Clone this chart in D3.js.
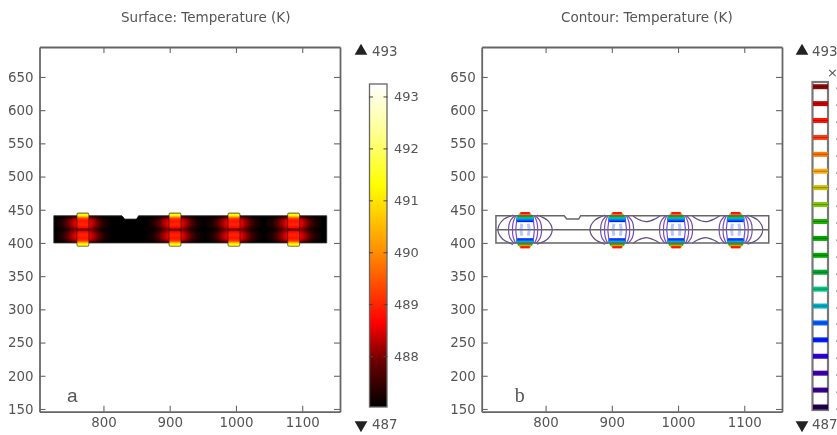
<!DOCTYPE html>
<html><head><meta charset="utf-8">
<script src="https://cdn.jsdelivr.net/npm/d3@7"></script>
<style>
html,body{margin:0;padding:0;background:#fff;overflow:hidden}
svg{display:block;filter:blur(0.65px)}
text{font-family:"DejaVu Sans",sans-serif;fill:#555}
</style></head><body><svg id="c" width="837" height="435"></svg>
<script>
// ---- data ----
const titles = ["Surface: Temperature (K)", "Contour: Temperature (K)"];
const panelLetters = ["a", "b"];
const xTicks = [800, 900, 1000, 1100];
const yTicks = [150,200,250,300,350,400,450,500,550,600,650];
const maxLabel = "493", minLabel = "487";
const barTicks = [488,489,490,491,492,493];
const heatColorT = [487, 487.9, 488.65, 490, 491.3, 492.3, 493.25];
const heatColorC = ["#000000","#6a0000","#ff0000","#ff8c00","#ffff00","#ffff90","#ffffff"];
const outline = [[725,441],[828,441],[832,436],[850,436],[853,441],[1137,441],[1137,400],[725,400]];
const padCentres = [769, 908, 997, 1087];
const padHalf = 9, padTop = 445, padBottom = 395, midY = 420;
const profOffsets = [-44,-32,-24,-18,-12,-8,0,8,12,18,24,32,44];
const rowEdge  = [487,487,487.1,487.3,487.5,487.7,487.8,487.7,487.5,487.3,487.1,487,487];
const rowUpper = [487,487.3,487.75,488.15,488.5,488.7,489,488.7,488.5,488.15,487.75,487.3,487];
const rowMid   = [487,487.15,487.5,487.85,488.2,488.4,488.6,488.4,488.2,487.85,487.5,487.15,487];
const rowBreaks = [441,436,431,424,422,418,416,409,404,400];
const rowOrder  = ["e","u","u","m","d","m","u","u","e"];
const padY = [445,441.5,440,437,433,428,423,421,419,417,412,407,403,400,398.5,395];
const padT = [491.3,491.25,490.6,489.2,488.8,489,488.7,487.9,487.9,488.7,489,488.8,489.2,490.6,491.25,491.3];
const levelT = [493.15,492.83,492.51,492.19,491.87,491.55,491.24,490.92,490.6,490.28,489.96,489.64,489.32,489,488.68,488.36,488.05,487.73,487.41,487.09];
const levelC = ["#8b0a0a","#cc0000","#ff1500","#ff3c10","#ff7a00","#ffaa10","#c8c000","#80c800","#20b000","#00a800","#00aa00","#00a830","#00c880","#00b0c8","#0060ff","#0020ff","#3000e0","#4000b0","#3a0090","#200050"];
const levelLabels = ["4.93","4.93","4.93","4.92","4.92","4.92","4.91","4.91","4.91","4.90","4.90","4.90","4.89","4.89","4.89","4.88","4.88","4.88","4.87","4.87"];
// end contours: level index, dy from mid-line, half-width
const endLevels = [15,14,13,12,10,8,6,4,2];
const endDy     = [13,15,17,19,20.5,21.5,23,24,25];
const endDx     = [12,13,13,12,11,10,9,8,7];
// side arcs: [dx,dy] quarter curves
const arcA = [[12,20],[13,10],[14,0]];
const arcB = [[14,21],[18,11],[19,0]];
const arcC = [[16,21],[23,12],[25,0]];
const arcOuter = [[18,22],[34,14],[41,0]];
const arcInner = [[5,9],[6,0]];
const arcLevels = [17,18,16,19,15];
const outerSides = [[769,-1],[769,1],[908,-1],[1087,1]];
const saddleSpans = [[908,997],[997,1087]];
const saddleDx = [24,31,44,57,65];
const saddleDy = [21,16,12,16,21];
// ---- drawing ----
const svg = d3.select("#c"), defs = svg.append("defs");
const x0 = 703.5, x1 = 1157, y0 = 145.9, y1 = 695.1;
const panels = [[39.5,340],[481.7,782]];
const y = d3.scaleLinear().domain([y0,y1]).range([411.7,47]);
const heat = d3.scaleLinear().domain(heatColorT).range(heatColorC).clamp(true);
const axisCol = "#666";
function frame(i){
  const x = d3.scaleLinear().domain([x0,x1]).range(panels[i]);
  const g = svg.append("g");
  const st = a=>{a.selectAll("path.domain").attr("stroke",axisCol).attr("stroke-width",1.8);
    a.selectAll("line").attr("stroke",axisCol).attr("stroke-width",1.1);
    a.selectAll("text").style("font-size","13.4px").style("font-family","DejaVu Sans").attr("fill","#555");};
  g.append("g").attr("transform",`translate(0,${y.range()[0]})`).call(d3.axisBottom(x).tickValues(xTicks).tickFormat(d3.format("d")).tickSizeInner(-6).tickSizeOuter(0).tickPadding(6)).call(st);
  g.append("g").attr("transform",`translate(0,${y.range()[1]})`).call(d3.axisTop(x).tickValues(xTicks).tickFormat("").tickSizeInner(-6).tickSizeOuter(0)).call(st);
  g.append("g").attr("transform",`translate(${panels[i][0]},0)`).call(d3.axisLeft(y).tickValues(yTicks).tickFormat(d3.format("d")).tickSizeInner(-6).tickSizeOuter(0).tickPadding(6)).call(st);
  g.append("g").attr("transform",`translate(${panels[i][1]},0)`).call(d3.axisRight(y).tickValues(yTicks).tickFormat("").tickSizeInner(-6).tickSizeOuter(0)).call(st);
  svg.append("text").attr("x",(panels[i][0]+panels[i][1])/2+16+(i?-1:0)).attr("y",22).attr("text-anchor","middle").style("font-size","13.5px").text(titles[i]);
  svg.append("text").attr("x",panels[i][0]+(i?33:27.5)).attr("y",402).style("font-size",i?"20px":"19px").style("font-family",i?"Liberation Serif":"Liberation Sans").text(panelLetters[i]);
  return x;
}
function tri(cx,cy,up){
  svg.append("path").attr("d",d3.symbol(d3.symbolTriangle,70)()).attr("transform",`translate(${cx},${cy}) rotate(${up?0:180})`).attr("fill","#222");
}
const line = (x)=>d3.line().x(d=>x(d[0])).y(d=>y(d[1]));
// left panel
const xa = frame(0);
defs.append("clipPath").attr("id","barClip").append("path").attr("d",line(xa)(outline)+"Z");
const soft = defs.append("filter").attr("id","soft").attr("x","-5%").attr("y","-30%").attr("width","110%").attr("height","160%");
soft.append("feGaussianBlur").attr("stdDeviation","0.6 1.6");
const stopsX = [], prof = {e:[],u:[],d:[],m:[]};
padCentres.forEach(c=>profOffsets.forEach((o,i)=>{stopsX.push(c+o);prof.e.push(rowEdge[i]);prof.u.push(rowUpper[i]);prof.m.push(rowMid[i]);prof.d.push(rowMid[i]-0.4);}));
Object.keys(prof).forEach(k=>{
  const lg = defs.append("linearGradient").attr("id","r"+k).attr("gradientUnits","userSpaceOnUse").attr("x1",xa(725)).attr("x2",xa(1137)).attr("y1",0).attr("y2",0);
  stopsX.forEach((s,i)=>lg.append("stop").attr("offset",(s-725)/(1137-725)).attr("stop-color",heat(prof[k][i])));
});
const heatG = svg.append("g");
const clipG = heatG.append("g").attr("clip-path","url(#barClip)");
clipG.append("rect").attr("x",xa(725)).attr("width",xa(1137)-xa(725)).attr("y",y(445)).attr("height",y(395)-y(445)).attr("fill","#000");
const bars = clipG.append("g").attr("filter","url(#soft)");
rowOrder.forEach((k,i)=>bars.append("rect").attr("x",xa(725)).attr("width",xa(1137)-xa(725)).attr("y",y(rowBreaks[i])).attr("height",y(rowBreaks[i+1])-y(rowBreaks[i])+0.5).attr("fill",`url(#r${k})`));
heatG.append("path").attr("d",line(xa)(outline)+"Z").attr("fill","none").attr("stroke","#333").attr("stroke-width",.8);
const pg = defs.append("linearGradient").attr("id","pad").attr("x1",0).attr("x2",0).attr("y1",0).attr("y2",1);
padY.forEach((v,i)=>pg.append("stop").attr("offset",(padTop-v)/(padTop-padBottom)).attr("stop-color",heat(padT[i])));
padCentres.forEach(c=>heatG.append("rect").attr("x",xa(c-padHalf)).attr("width",xa(c+padHalf)-xa(c-padHalf)).attr("y",y(padTop)).attr("height",y(padBottom)-y(padTop)).attr("rx",1.5).attr("fill","url(#pad)").attr("stroke","#222").attr("stroke-opacity",.6).attr("stroke-width",1.1));
// left color bar
const cbY = d3.scaleLinear().domain([487.03,493.25]).range([407,84]);
const vg = defs.append("linearGradient").attr("id","cb").attr("x1",0).attr("x2",0).attr("y1",1).attr("y2",0);
heatColorT.forEach((t,i)=>vg.append("stop").attr("offset",(t-487.03)/(493.25-487.03)).attr("stop-color",heatColorC[i]));
svg.append("rect").attr("x",369.5).attr("y",84).attr("width",17.5).attr("height",323).attr("fill","url(#cb)").attr("stroke","#666").attr("stroke-width",1.3);
barTicks.forEach(t=>{
  svg.append("line").attr("x1",369).attr("x2",373).attr("y1",cbY(t)).attr("y2",cbY(t)).attr("stroke","#444");
  svg.append("line").attr("x1",383.5).attr("x2",387.5).attr("y1",cbY(t)).attr("y2",cbY(t)).attr("stroke","#444");
  svg.append("text").attr("x",394).attr("y",cbY(t)+4.5).style("font-size","13px").text(t);
});
tri(361,51,true); tri(361,425,false);
svg.append("text").attr("x",372).attr("y",56).style("font-size","13.4px").text(maxLabel);
svg.append("text").attr("x",372).attr("y",429).style("font-size","13.4px").text(minLabel);
// right panel
const xb = frame(1), lb = line(xb);
const cG = svg.append("g").attr("fill","none");
const curve = d3.line().x(d=>xb(d[0])).y(d=>y(d[1])).curve(d3.curveCatmullRom);
function arc(c,side,pts,col,w,op){
  const half = pts.map(p=>[c+side*p[0],midY+p[1]]);
  const lower = pts.slice(0,-1).reverse().map(p=>[c+side*p[0],midY-p[1]]);
  cG.append("path").attr("d",curve(half.concat(lower))).attr("stroke",col).attr("stroke-width",w).attr("stroke-opacity",op||.7);
}
padCentres.forEach(c=>{
  [-1,1].forEach(s=>{
    arc(c,s,arcInner,"#a8b8ff",3,.8);
    arc(c,s,arcA,levelC[arcLevels[2]],1.2);
    arc(c,s,arcB,levelC[arcLevels[0]],1.2);
    arc(c,s,arcC,levelC[arcLevels[1]],1.2);
  });
  endLevels.forEach((lv,i)=>[-1,1].forEach(sg=>{
    const yy = (sg>0 ? midY+endDy[i] : midY-endDy[i]-1.5);
    cG.append("path").attr("d",lb([[c-endDx[i],yy],[c+endDx[i],yy]])).attr("stroke",levelC[lv]).attr("stroke-width",2.2);
  }));
});
outerSides.forEach(o=>arc(o[0],o[1],arcOuter,levelC[arcLevels[3]],1.2));
saddleSpans.forEach(sp=>[-1,1].forEach(s=>{
  const pts = saddleDx.map((d,i)=>[sp[0]+d*(sp[1]-sp[0])/89,midY+s*saddleDy[i]]);
  cG.append("path").attr("d",curve(pts)).attr("stroke",levelC[arcLevels[3]]).attr("stroke-width",1.2).attr("stroke-opacity",.7);
}));
svg.append("path").attr("d",lb(outline)+"Z").attr("fill","none").attr("stroke","#666").attr("stroke-width",1.5);
svg.append("path").attr("d",lb([[725,midY],[1137,midY]])).attr("stroke","#666").attr("stroke-width",1.4);
// right legend
const lvY = d3.scaleLinear().domain([487.09,493.15]).range([407,86.7]);
svg.append("rect").attr("x",812.5).attr("y",82).attr("width",15.5).attr("height",328).attr("fill","#fff").attr("stroke","#777").attr("stroke-width",2.2);
levelT.forEach((t,i)=>{
  svg.append("line").attr("x1",813).attr("x2",828).attr("y1",lvY(t)).attr("y2",lvY(t)).attr("stroke",levelC[i]).attr("stroke-width",5);
  svg.append("line").attr("x1",813).attr("x2",828).attr("y1",lvY(t)).attr("y2",lvY(t)).attr("stroke","#000").attr("stroke-opacity",.3).attr("stroke-width",1);
  svg.append("text").attr("x",835.5).attr("y",lvY(t)+4.5).style("font-size","13px").style("fill","#999").text(levelLabels[i]);
});
svg.append("text").attr("x",827).attr("y",77).style("font-size","13px").text("×10²");
tri(802,51,true); tri(802,425,false);
svg.append("text").attr("x",812).attr("y",56).style("font-size","13.4px").text(maxLabel);
svg.append("text").attr("x",812).attr("y",429).style("font-size","13.4px").text(minLabel);
</script></body></html>
